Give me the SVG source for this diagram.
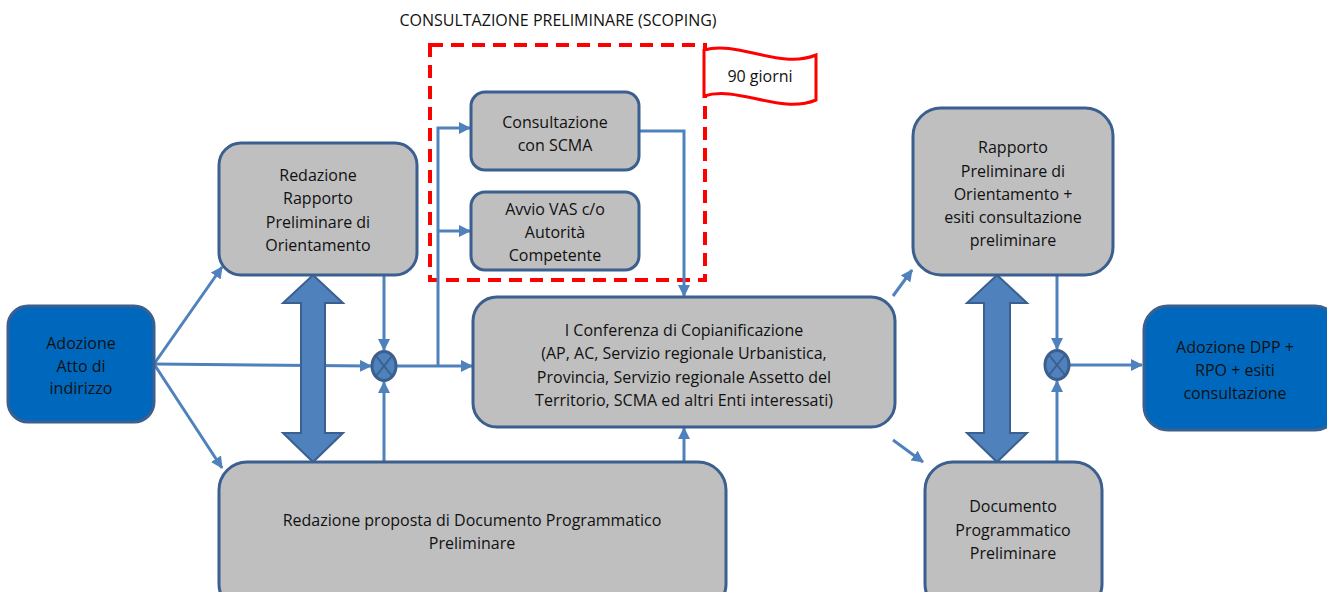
<svg xmlns="http://www.w3.org/2000/svg" width="1327" height="592" viewBox="0 0 1327 592">
<defs>
<style>
.gn{fill:#BFBFBF;stroke:#3B5F8E;stroke-width:3}
.bn{fill:#0068BC;stroke:#3B5F8E;stroke-width:3}
.t{font-family:"Open Sans","Liberation Sans",sans-serif;font-size:16px;fill:#111;text-anchor:middle;dominant-baseline:central}
.c{fill:none;stroke:#4F81BD;stroke-width:3}
.ca{fill:none;stroke:#4F81BD;stroke-width:3;marker-end:url(#ah)}
.dbl{fill:#4F81BD;stroke:#3B5F8E;stroke-width:2}
.jn{fill:#4F81BD;stroke:#3B5F8E;stroke-width:3}
.jx{stroke:#3B5F8E;stroke-width:2}
</style>
<marker id="ah" viewBox="0 0 12 12" refX="11" refY="6" markerWidth="12" markerHeight="12" markerUnits="userSpaceOnUse" orient="auto">
<path d="M0,0 L12,6 L0,12 Z" fill="#4F81BD"/>
</marker>
</defs>
<rect width="1327" height="592" fill="#fff"/>

<text class="t" x="558" y="20">CONSULTAZIONE PRELIMINARE (SCOPING)</text>

<g id="scoping-box">
<rect x="430" y="45" width="275" height="235" fill="none" stroke="#FF0000" stroke-width="4" stroke-dasharray="13 8"/>
</g>

<g id="flag">
<path d="M704,50 C738,40 780,70 816,55 L816,100 C780,115 738,85 704,96 Z" fill="#fff" stroke="#FF0000" stroke-width="3"/>
<text class="t" x="760" y="76">90 giorni</text>
</g>

<g id="connectors">
<line class="ca" x1="154" y1="364" x2="222" y2="267"/>
<line class="ca" x1="154" y1="364" x2="371" y2="366"/>
<line class="ca" x1="154" y1="364" x2="222" y2="468"/>
<line class="ca" x1="384" y1="275" x2="384" y2="350"/>
<line class="ca" x1="384" y1="462" x2="384" y2="382"/>
<line class="ca" x1="397" y1="366" x2="472" y2="366"/>
<polyline class="ca" points="438,366 438,128 470,128"/>
<line class="ca" x1="438" y1="231" x2="470" y2="231"/>
<polyline class="ca" points="639,131 684,131 684,296"/>
<line class="ca" x1="684" y1="462" x2="684" y2="428"/>
<line class="ca" x1="893" y1="296" x2="912" y2="270"/>
<line class="ca" x1="893" y1="440" x2="923" y2="462"/>
<line class="ca" x1="1057" y1="275" x2="1057" y2="349"/>
<line class="ca" x1="1057" y1="462" x2="1057" y2="381"/>
<line class="ca" x1="1070" y1="365" x2="1142" y2="365"/>
</g>

<g id="double-arrow-left">
<polygon class="dbl" points="313,275 343,303 325,303 325,433 343,433 313,462 283,433 301,433 301,303 283,303"/>
</g>
<g id="double-arrow-right">
<polygon class="dbl" points="997,275 1027,303 1010,303 1010,433 1027,433 997,462 967,433 984,433 984,303 967,303"/>
</g>

<g id="junction-left">
<ellipse class="jn" cx="384" cy="366" rx="12" ry="14.5"/>
<line class="jx" x1="376" y1="356" x2="392" y2="376"/>
<line class="jx" x1="392" y1="356" x2="376" y2="376"/>
</g>
<g id="junction-right">
<ellipse class="jn" cx="1057" cy="365" rx="12" ry="14.5"/>
<line class="jx" x1="1049" y1="355" x2="1065" y2="375"/>
<line class="jx" x1="1065" y1="355" x2="1049" y2="375"/>
</g>

<g id="adozione-atto">
<rect class="bn" x="8" y="306" width="146" height="116" rx="20"/>
<text class="t" x="81" y="343">Adozione</text>
<text class="t" x="81" y="366">Atto di</text>
<text class="t" x="81" y="388">indirizzo</text>
</g>

<g id="redazione-rapporto">
<rect class="gn" x="219" y="143" width="198" height="132" rx="22"/>
<text class="t" x="318" y="175">Redazione</text>
<text class="t" x="318" y="198">Rapporto</text>
<text class="t" x="318" y="222">Preliminare di</text>
<text class="t" x="318" y="245">Orientamento</text>
</g>

<g id="consultazione-scma">
<rect class="gn" x="471" y="92" width="168" height="78" rx="14"/>
<text class="t" x="555" y="122">Consultazione</text>
<text class="t" x="555" y="145">con SCMA</text>
</g>

<g id="avvio-vas">
<rect class="gn" x="471" y="192" width="168" height="78" rx="14"/>
<text class="t" x="555" y="209">Avvio VAS c/o</text>
<text class="t" x="555" y="232">Autorità</text>
<text class="t" x="555" y="255">Competente</text>
</g>

<g id="conferenza">
<rect class="gn" x="473" y="297" width="422" height="130" rx="24"/>
<text class="t" x="684" y="330">I Conferenza di Copianificazione</text>
<text class="t" x="684" y="353">(AP, AC, Servizio regionale Urbanistica,</text>
<text class="t" x="684" y="377">Provincia, Servizio regionale Assetto del</text>
<text class="t" x="684" y="400">Territorio, SCMA ed altri Enti interessati)</text>
</g>

<g id="redazione-proposta">
<rect class="gn" x="219" y="462" width="507" height="150" rx="28"/>
<text class="t" x="472" y="520">Redazione proposta di Documento Programmatico</text>
<text class="t" x="472" y="543">Preliminare</text>
</g>

<g id="rapporto-esiti">
<rect class="gn" x="913" y="108" width="200" height="167" rx="28"/>
<text class="t" x="1013" y="147">Rapporto</text>
<text class="t" x="1013" y="171">Preliminare di</text>
<text class="t" x="1013" y="194">Orientamento +</text>
<text class="t" x="1013" y="217">esiti consultazione</text>
<text class="t" x="1013" y="240">preliminare</text>
</g>

<g id="documento-programmatico">
<rect class="gn" x="925" y="462" width="177" height="150" rx="28"/>
<text class="t" x="1013" y="506">Documento</text>
<text class="t" x="1013" y="530">Programmatico</text>
<text class="t" x="1013" y="553">Preliminare</text>
</g>

<g id="adozione-dpp">
<rect class="bn" x="1144" y="306" width="195" height="124" rx="24"/>
<text class="t" x="1235" y="347">Adozione DPP +</text>
<text class="t" x="1235" y="370">RPO + esiti</text>
<text class="t" x="1235" y="393">consultazione</text>
</g>
</svg>
